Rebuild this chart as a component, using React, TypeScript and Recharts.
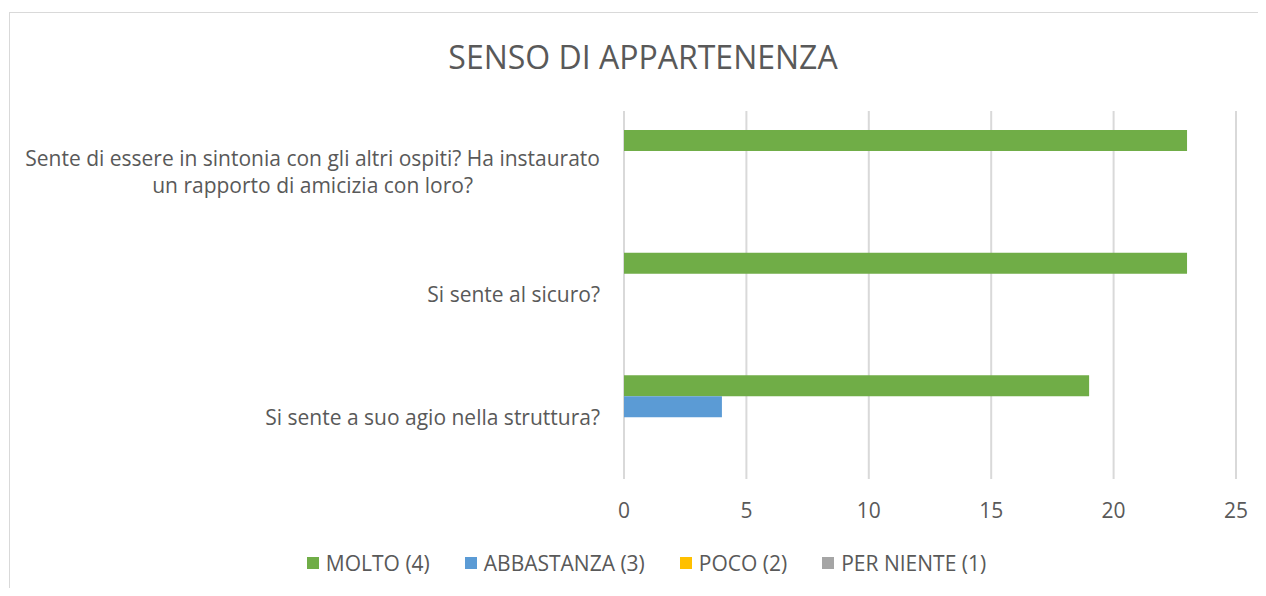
import React from "react";
import { BarChart, Bar, XAxis, YAxis, CartesianGrid, Legend } from "recharts";

const domande = [
  "Sente di essere in sintonia con gli altri ospiti? Ha instaurato un rapporto di amicizia con loro?",
  "Si sente al sicuro?",
  "Si sente a suo agio nella struttura?",
];
const molto = [23, 23, 19];
const abbastanza = [0, 0, 4];
const poco = [0, 0, 0];
const perNiente = [0, 0, 0];
const ticksX = [0, 5, 10, 15, 20, 25];

const serie = [
  { key: "molto", nome: "MOLTO (4)", colore: "#70AD47" },
  { key: "abbastanza", nome: "ABBASTANZA (3)", colore: "#5B9BD5" },
  { key: "poco", nome: "POCO (2)", colore: "#FFC000" },
  { key: "perNiente", nome: "PER NIENTE (1)", colore: "#A5A5A5" },
];

const dati = domande.map((d, i) => ({
  domanda: d,
  molto: molto[i],
  abbastanza: abbastanza[i],
  poco: poco[i],
  perNiente: perNiente[i],
}));

const FONT = "'Open Sans', sans-serif";
const TESTO = "#595959";
const DIM = 21;

let ctx: CanvasRenderingContext2D | null = null;
function larghezza(t: string) {
  if (!ctx) ctx = document.createElement("canvas").getContext("2d");
  if (!ctx) return t.length * 10;
  ctx.font = `${DIM}px 'Open Sans'`;
  return ctx.measureText(t).width;
}

// a capo parola per parola, come fa Excel sulle etichette lunghe
function righe(t: string, max: number) {
  const parole = t.split(" ");
  const out: string[] = [];
  let cur = "";
  for (const p of parole) {
    const prova = cur ? cur + " " + p : p;
    if (cur && larghezza(prova) > max) {
      out.push(cur);
      cur = p;
    } else cur = prova;
  }
  if (cur) out.push(cur);
  return out;
}

function TickDomanda({ x, y, payload }: any) {
  const linee = righe(payload.value, 590);
  const w = Math.max(...linee.map(larghezza));
  const cx = x - w / 2;
  return (
    <g>
      {linee.map((l, i) => (
        <text
          key={i}
          x={cx}
          y={y + (i - (linee.length - 1) / 2) * 27}
          dy="0.355em"
          textAnchor="middle"
          fill={TESTO}
          fontSize={DIM}
          fontFamily={FONT}
        >
          {l}
        </text>
      ))}
    </g>
  );
}

function Legenda() {
  return (
    <div
      style={{
        display: "flex",
        justifyContent: "center",
        paddingLeft: 49,
        height: 24,
        lineHeight: "24px",
        fontFamily: FONT,
        fontSize: DIM,
        color: TESTO,
      }}
    >
      {serie.map((s, i) => (
        <span
          key={s.key}
          style={{ display: "flex", alignItems: "center", marginRight: i < serie.length - 1 ? 35 : 0 }}
        >
          <span style={{ width: 12, height: 12, background: s.colore, marginRight: 7 }} />
          {s.nome}
        </span>
      ))}
    </div>
  );
}

export default function App() {
  return (
    <div style={{ position: "relative", width: 1258, height: 580, overflow: "hidden", background: "#fff" }}>
      <div
        style={{
          position: "absolute",
          left: 1,
          top: 4,
          width: 1400,
          height: 800,
          border: "1px solid #D9D9D9",
        }}
      />
      <div
        style={{
          position: "absolute",
          left: 0,
          top: 32,
          width: 1270,
          textAlign: "center",
          fontFamily: FONT,
          fontSize: 32,
          lineHeight: "34px",
          color: TESTO,
        }}
      >
        SENSO DI APPARTENENZA
      </div>
      <div style={{ position: "absolute", left: 0, top: 0 }}>
        <BarChart
          width={1258}
          height={580}
          data={dati}
          layout="vertical"
          margin={{ top: 103, right: 30, bottom: 13, left: 0 }}
          barSize={21}
          barGap={0}
        >
          <CartesianGrid horizontal={false} stroke="#D9D9D9" strokeWidth={2} />
          <XAxis
            type="number"
            domain={[0, 25]}
            ticks={ticksX}
            axisLine={false}
            tickLine={false}
            tickMargin={18}
            height={72}
            tick={{ fill: TESTO, fontSize: DIM, fontFamily: FONT }}
          />
          <YAxis
            type="category"
            dataKey="domanda"
            width={616}
            axisLine={false}
            tickLine={false}
            tickMargin={18}
            tick={<TickDomanda />}
            interval={0}
          />
          <Legend verticalAlign="bottom" content={<Legenda />} />
          {serie.map((s) => (
            <Bar key={s.key} dataKey={s.key} name={s.nome} fill={s.colore} isAnimationActive={false} />
          ))}
        </BarChart>
      </div>
    </div>
  );
}
